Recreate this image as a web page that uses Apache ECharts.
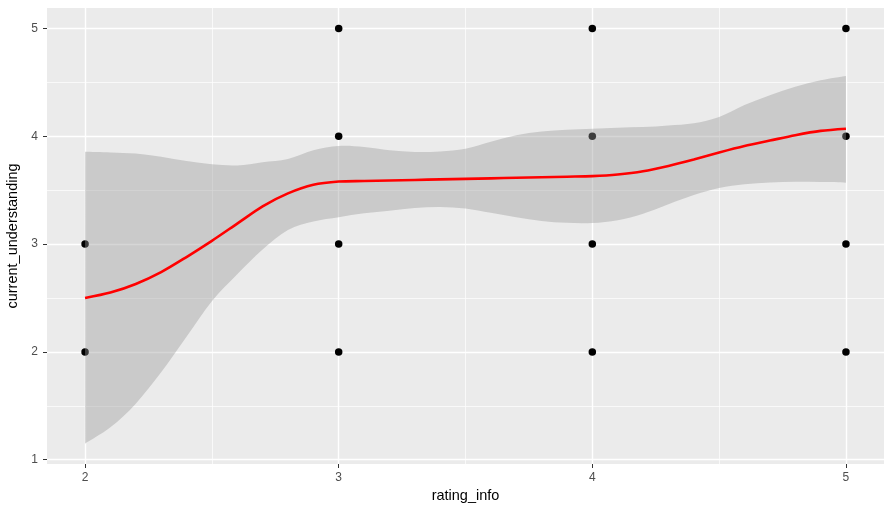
<!DOCTYPE html>
<html>
<head>
<meta charset="utf-8">
<script src="https://cdn.jsdelivr.net/npm/echarts@6/dist/echarts.min.js"></script>
<style>
html,body{margin:0;padding:0;background:#fff;}
#chart{width:892px;height:517px;}
</style>
</head>
<body>
<div id="chart"></div>
<script>
// Observed points
const pointX = [2, 2, 3, 3, 3, 3, 4, 4, 4, 4, 5, 5, 5, 5];
const pointY = [3, 2, 5, 4, 3, 2, 5, 4, 3, 2, 5, 4, 3, 2];

// Smoother
const smoothX = [2.0,2.1,2.2,2.3,2.4,2.5,2.6,2.7,2.8,2.9,3.0,3.1,3.2,3.3,3.4,3.5,3.6,3.7,3.8,3.9,4.0,4.1,4.2,4.3,4.4,4.5,4.6,4.7,4.8,4.9,5.0];
const smoothFit = [2.50,2.55,2.63,2.74,2.88,3.03,3.19,3.35,3.47,3.55,3.58,3.585,3.59,3.595,3.60,3.605,3.61,3.615,3.62,3.625,3.63,3.645,3.675,3.725,3.785,3.85,3.91,3.96,4.01,4.05,4.07];
const smoothUpper = [3.856,3.85,3.84,3.81,3.77,3.74,3.73,3.76,3.79,3.87,3.91,3.90,3.87,3.855,3.86,3.885,3.95,4.01,4.045,4.06,4.07,4.08,4.085,4.10,4.12,4.18,4.29,4.38,4.46,4.52,4.56];
const smoothLower = [1.149,1.30,1.52,1.81,2.14,2.47,2.72,2.95,3.13,3.21,3.25,3.285,3.31,3.335,3.345,3.33,3.29,3.25,3.215,3.197,3.196,3.222,3.282,3.37,3.455,3.52,3.555,3.572,3.578,3.575,3.57];

// Axis ticks
const xTicks = [2, 3, 4, 5];
const yTicks = [1, 2, 3, 4, 5];
const xMinor = [2.5, 3.5, 4.5];
const yMinor = [1.5, 2.5, 3.5, 4.5];

const chart = echarts.init(document.getElementById('chart'), null, {renderer: 'canvas'});

const gridLines = [];
xMinor.forEach(v => gridLines.push({xAxis: v, lineStyle: {width: 0.7}}));
yMinor.forEach(v => gridLines.push({yAxis: v, lineStyle: {width: 0.7}}));
xTicks.forEach(v => gridLines.push({xAxis: v, lineStyle: {width: 1.4}}));
yTicks.forEach(v => gridLines.push({yAxis: v, lineStyle: {width: 1.4}}));

const textFont = 'Liberation Sans, Arial, sans-serif';

// Catmull-Rom segments (in pixel space) for a smooth ribbon outline
function curveSegs(pts) {
  let d = '';
  const n = pts.length;
  for (let i = 0; i < n - 1; i++) {
    const p0 = pts[Math.max(i - 1, 0)], p1 = pts[i], p2 = pts[i + 1], p3 = pts[Math.min(i + 2, n - 1)];
    const c1x = p1[0] + (p2[0] - p0[0]) / 6, c1y = p1[1] + (p2[1] - p0[1]) / 6;
    const c2x = p2[0] - (p3[0] - p1[0]) / 6, c2y = p2[1] - (p3[1] - p1[1]) / 6;
    d += ' C' + c1x + ' ' + c1y + ' ' + c2x + ' ' + c2y + ' ' + p2[0] + ' ' + p2[1];
  }
  return d;
}

const option = {
  animation: false,
  backgroundColor: '#ffffff',
  grid: {
    left: 47, right: 8, top: 8, bottom: 53,
    outerBoundsMode: 'none', containLabel: false,
    show: true, backgroundColor: '#EBEBEB', borderWidth: 0
  },
  xAxis: {
    type: 'value', min: 1.85, max: 5.15,
    name: 'rating_info', nameLocation: 'middle', nameGap: 24,
    nameTextStyle: {color: '#000', fontSize: 14.5, fontFamily: textFont},
    axisLine: {show: false},
    axisTick: {show: true, customValues: xTicks, length: 4, lineStyle: {color: '#333', width: 1}},
    axisLabel: {customValues: xTicks, color: '#4D4D4D', fontSize: 12, fontFamily: textFont, margin: 8},
    splitLine: {show: false}
  },
  yAxis: {
    type: 'value', min: 0.96, max: 5.19,
    name: 'current_understanding', nameLocation: 'middle', nameGap: 26,
    nameTextStyle: {color: '#000', fontSize: 14.5, fontFamily: textFont},
    axisLine: {show: false},
    axisTick: {show: true, customValues: yTicks, length: 4, lineStyle: {color: '#333', width: 1}},
    axisLabel: {customValues: yTicks, color: '#4D4D4D', fontSize: 12, fontFamily: textFont, margin: 9},
    splitLine: {show: false}
  },
  series: [
    {
      type: 'scatter', data: [], z: 1, silent: true,
      markLine: {
        z: 1, silent: true, symbol: ['none', 'none'], label: {show: false},
        lineStyle: {color: '#ffffff', type: 'solid'},
        emphasis: {disabled: true},
        data: gridLines
      }
    },
    {
      type: 'scatter', z: 10, symbolSize: 7.5,
      itemStyle: {color: '#000000', opacity: 1},
      data: pointX.map((x, i) => [x, pointY[i]])
    },
    {
      type: 'custom', z: 11, silent: true,
      data: [[smoothX[0], smoothFit[0]]],
      renderItem: function (params, api) {
        const up = smoothX.map((x, i) => api.coord([x, smoothUpper[i]]));
        const lo = smoothX.map((x, i) => api.coord([x, smoothLower[i]])).reverse();
        let d = 'M' + up[0][0] + ' ' + up[0][1] + curveSegs(up);
        d += ' L' + lo[0][0] + ' ' + lo[0][1] + curveSegs(lo) + ' Z';
        return {type: 'path', shape: {pathData: d}, style: {fill: 'rgba(153,153,153,0.4)', stroke: null}};
      }
    },
    {
      type: 'line', z: 12, smooth: 0.3, showSymbol: false, symbol: 'none', silent: true,
      lineStyle: {color: '#FF0000', width: 2.6},
      data: smoothX.map((x, i) => [x, smoothFit[i]])
    }
  ]
};
chart.setOption(option);
</script>
</body>
</html>
